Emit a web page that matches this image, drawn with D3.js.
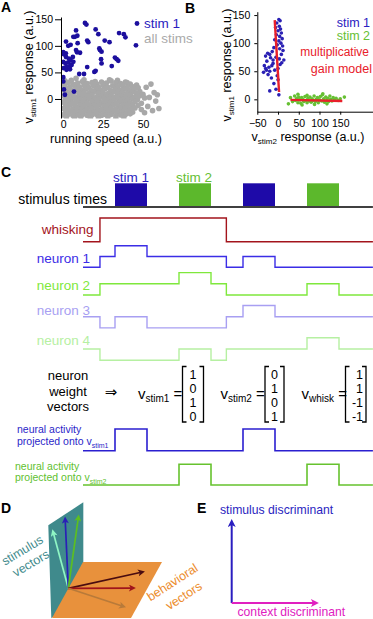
<!DOCTYPE html>
<html>
<head>
<meta charset="utf-8">
<script src="https://cdn.jsdelivr.net/npm/d3@7"></script>
<style>
  body { margin: 0; background: #fff; }
  svg { display: block; font-family: "Liberation Sans", Arial, sans-serif; }
</style>
</head>
<body>
<svg id="fig" width="373" height="619"></svg>
<script>
// ---------- data ----------
// Panel A: running speed vs v_stim1 response
const aTicksX = [0, 25, 50];
const aTicksY = [0, 50, 100, 150];
const aStim1 = [
  [13.6,143],[14.5,140],[8,129],[20.3,131],[22,122],[8.8,119],[7.3,117],[6.3,117],
  [35,124],[38,122],[39,116],[45.6,101],[1.7,108],[3.1,100],[4.6,102],[0,88],[1.6,86],
  [15,110],[15.7,107],[22.6,95],[23,92],[24,89],[26,110],[29,107],[8,92],[10.5,87],
  [8.6,88],[9,105],[23.7,75],[24,67],[32.4,78],[33.5,75],[34.5,72],[30.4,62],[15,60],
  [19.5,51],[20.3,53],[10,47],[13,47],[0,41],[0,33],[0.4,18],[1,8],[6.7,14],
  [0.2,58],[2,55],[4.2,56],[0,70],[1.4,67],[3.1,69],[4.6,73],[1.7,79],[3.5,76],
  [5.2,64],[6.3,70],[4.2,62],[2,61],[0.4,84],[6,79]
];
const aAllStims = [
  [1,34],[8,39],[13,36],[20,33],[29,36],[34,35],[40,31],[5,35],
  [0,29],[3,31],[6,28],[9,30],[12,33],[15,29],[18,31],[21,28],[24,32],[27,30],[30,34],[33,31],[36,29],[39,32],[42,28],[46,26],
  [1,24],[4,22],[7,25],[10,23],[13,26],[16,22],[19,25],[22,23],[25,26],[28,22],[31,25],[34,23],[37,26],[40,22],[43,24],[47,21],
  [0,17],[2.5,19],[5.5,16],[8.5,19],[11.5,17],[14.5,19],[17.5,16],[20.5,18],[23.5,17],[26.5,20],[29.5,16],[32.5,18],[35.5,17],[38.5,19],[41.5,16],[44.5,18],[48,14],
  [1.5,12],[4,10],[7,13],[10,11],[13,12],[16,10],[19,13],[22,11],[25,12],[28,10],[31,13],[34,11],[37,12],[40,10],[43,13],[46,11],[50,9],
  [0,6],[3,5],[6,7],[9,4],[12,6],[15,5],[18,7],[21,4],[24,6],[27,5],[30,7],[33,4],[36,6],[39,5],[42,7],[45,4],[48,6],
  [1.5,0],[4.5,-1],[7.5,1],[10.5,-1],[13.5,0],[16.5,1],[19.5,-1],[22.5,0],[25.5,1],[28.5,-1],[31.5,0],[34.5,1],[37.5,-1],[40.5,0],[43.5,1],[46.5,-1],[51,2],
  [0,-6],[3,-5],[6,-7],[9,-5],[12,-6],[15,-7],[18,-5],[21,-6],[24,-7],[27,-5],[30,-6],[33,-7],[36,-5],[39,-6],[42,-7],[45,-5],[49,-8],
  [1.5,-12],[4.5,-11],[7.5,-13],[10.5,-12],[13.5,-11],[16.5,-13],[19.5,-12],[22.5,-11],[25.5,-13],[28.5,-12],[31.5,-11],[34.5,-13],[37.5,-12],[40.5,-11],[43.5,-13],[47,-12],
  [0,-18],[3,-17],[6,-19],[9,-18],[12,-17],[15,-19],[18,-18],[21,-17],[24,-19],[27,-18],[30,-17],[33,-19],[36,-18],[39,-17],[42,-19],[45,-17],
  [1.5,-24],[4.5,-23],[7.5,-25],[10.5,-24],[13.5,-23],[16.5,-25],[19.5,-24],[22.5,-23],[25.5,-25],[28.5,-24],[31.5,-23],[34.5,-25],[37.5,-24],[40.5,-23],[43.5,-25],
  [0,-30],[3,-29],[6,-31],[9,-30],[12,-29],[15,-31],[18,-30],[21,-29],[24,-31],[27,-30],[30,-29],[33,-31],[36,-30],[39,-29],[42,-28],
  [2,-35],[7,-37],[11,-34],[17,-37],[22,-35],[28,-34],[33,-36],[38,-35],
  [52,22],[55,28],[57,12],[54,3],[58,-4],[53,-14],[56,-22],[60,-18],[51,-26],[59,8],[49,-20]
];

// Panel B: v_stim2 response vs v_stim1 response
const bTicksX = [-50, 0, 50, 100, 150];
const bTicksY = [0, 50, 100, 150];
const bStim1 = [
  [2,142],[5,140],[-3,136],[3,130],[-6,128],[6,125],[0,122],[8,118],[-4,115],[4,112],
  [10,108],[-8,106],[2,104],[7,100],[-2,97],[11,95],[-10,92],[4,90],[12,87],[-14,85],
  [-25,82],[-20,80],[8,80],[-30,77],[-18,74],[-5,75],[3,72],[14,70],[-27,68],[-12,70],
  [-33,60],[-22,57],[-15,60],[-28,52],[-20,50],[-35,48],[-8,52],[0,55],[5,62],[-24,44],
  [-16,38],[-2,42],[-20,15],[-5,18],[2,8],[-10,28],[0,35],[-30,55],[-12,64],[9,65]
];
const bStim2 = [
  [25,-8],[30,3],[35,-4],[40,6],[42,-2],[45,2],[48,-6],[50,4],[52,-1],[55,-7],
  [57,3],[60,0],[62,-4],[65,5],[67,-2],[70,-6],[72,2],[75,-3],[77,4],[80,-5],
  [82,1],[85,-2],[87,6],[90,-4],[92,0],[95,3],[97,-6],[100,-1],[102,5],[105,-3],
  [107,8],[110,1],[112,-5],[115,4],[117,-2],[120,2],[122,-4],[125,6],[127,0],[130,-3],
  [133,3],[136,-1],[140,2],[145,-2],[150,1],[160,4],[48,9],[58,-10],[88,-9],[108,10],
  [118,-8],[70,7]
];
const gainFitStim1 = [[-8,141],[2.5,13]];
const gainFitStim2 = [[30,-1],[155,-3]];

// Panel C: stimulus epochs (time units) and step traces [time, level]
const stimEpochs = [
  { t0: 1, t1: 2, stim: 1 }, { t0: 3, t1: 4, stim: 2 },
  { t0: 5, t1: 6, stim: 1 }, { t0: 7, t1: 8, stim: 2 }
];
const tEnd = 9.06;
const whiskTrace = [[0,0],[0.53,1],[4.48,0]];
const neuron1 = [[0,0],[0.53,1],[1,2],[2,1],[4.48,0],[5,1],[6,0]];
const neuron2 = [[0,0],[0.53,1],[3,2],[4,1],[4.48,0],[7,1],[8,0]];
const neuron3 = [[0,0],[0.53,-1],[1,0],[2,-1],[4.48,0],[5,1],[6,0]];
const neuron4 = [[0,0],[0.53,-1],[3,0],[4,-1],[4.48,0],[7,1],[8,0]];
const projStim1 = [[0,0],[1,1],[2,0],[5,1],[6,0]];
const projStim2 = [[0,0],[3,1],[4,0],[7,1],[8,0]];
const vecNames = ["stim1", "stim2", "whisk"];
const vecValues = [[1,0,1,0],[0,1,0,1],[1,1,-1,-1]];

// Panel D: vectors in local units from the shared origin
const stimPlane = [[-20,-63],[15,-86],[15,2],[-17,30]];
const behavPlane = [[14.7,-26.3],[93.7,-26.3],[62.7,29.7],[-16.3,29.7]];
const stimVectors = [[-16.3,-60.3],[-3.3,-73.3],[10.7,-75.3]];
const behavVectors = [[78.7,-17.3],[69.7,-0.3],[59.7,19.7]];

// ---------- drawing ----------
const svg = d3.select("#fig");
const defs = svg.append("defs");

function panelLabel(t, x, y) {
  svg.append("text").attr("x", x).attr("y", y)
    .attr("font-weight", "bold").attr("font-size", 14).text(t);
}

// text with a subscript: parts = [[text, isSub], ...]
function subText(sel, parts, size, subSize) {
  let shifted = false;
  parts.forEach(p => {
    const ts = sel.append("tspan").text(p[0]);
    if (p[1]) { ts.attr("font-size", subSize).attr("dy", size * 0.25); shifted = true; }
    else if (shifted) { ts.attr("dy", -size * 0.25); shifted = false; }
  });
  return sel;
}

function styleAxis(g) {
  g.attr("font-family", null).attr("font-size", 10.5);
  g.selectAll("path,line").attr("stroke", "#000").attr("stroke-width", 1);
}

// ===== Panel A =====
panelLabel("A", 1, 12);
const ax = d3.scaleLinear().domain([-1.44, 62]).range([61, 162.1]);
const ay = d3.scaleLinear().domain([-35.8, 154.3]).range([118, 17]);

defs.append("clipPath").attr("id", "clipA")
  .append("rect").attr("x", 61).attr("y", 0).attr("width", 120).attr("height", 118.5);

const gA = svg.append("g").attr("clip-path", "url(#clipA)");
gA.selectAll("circle.all").data(aAllStims).enter().append("circle")
  .attr("cx", d => ax(d[0])).attr("cy", d => ay(d[1])).attr("r", 2.8)
  .attr("fill", "#a8a8a8");
gA.selectAll("circle.s1").data(aStim1).enter().append("circle")
  .attr("cx", d => ax(d[0])).attr("cy", d => ay(d[1])).attr("r", 2.4)
  .attr("fill", "#1c0f9e");

svg.append("g").attr("transform", "translate(61,0)")
  .call(d3.axisLeft(ay).tickValues(aTicksY).tickSize(6).tickSizeOuter(0).tickPadding(2))
  .call(styleAxis);
svg.append("g").attr("transform", "translate(0,119)")
  .call(d3.axisBottom(ax).tickValues(aTicksX).tickSize(0).tickPadding(1.5))
  .call(styleAxis)
  .call(g => g.select(".domain").remove());

// legend A
svg.append("circle").attr("cx", 137).attr("cy", 23.5).attr("r", 2.4).attr("fill", "#1c0f9e");
svg.append("text").attr("x", 144).attr("y", 27.5).attr("font-size", 13.5)
  .attr("fill", "#2a1cc0").text("stim 1");
svg.append("text").attr("x", 144).attr("y", 43).attr("font-size", 13.5)
  .attr("fill", "#aaaaaa").text("all stims");

subText(svg.append("text").attr("transform", "translate(33,67) rotate(-90)")
  .attr("text-anchor", "middle").attr("font-size", 12.5),
  [["v", 0], ["stim1", 1], [" response (a.u.)", 0]], 12.5, 8);
svg.append("text").attr("x", 106).attr("y", 142.5).attr("text-anchor", "middle")
  .attr("font-size", 12.5).text("running speed (a.u.)");

// ===== Panel B =====
panelLabel("B", 185, 13);
const bx = d3.scaleLinear().domain([-50, 229]).range([257.3, 373]);
const by = d3.scaleLinear().domain([-22, 156]).range([111.7, 11.7]);

svg.append("g").selectAll("circle").data(bStim1).enter().append("circle")
  .attr("cx", d => bx(d[0])).attr("cy", d => by(d[1])).attr("r", 1.8)
  .attr("fill", "#2a20b4");
svg.append("g").selectAll("circle").data(bStim2).enter().append("circle")
  .attr("cx", d => bx(d[0])).attr("cy", d => by(d[1])).attr("r", 1.8)
  .attr("fill", "#66c033");
const fitLine = d3.line().x(d => bx(d[0])).y(d => by(d[1]));
[gainFitStim1, gainFitStim2].forEach(f => {
  svg.append("path").attr("d", fitLine(f)).attr("stroke", "#e8202a")
    .attr("stroke-width", 2.4).attr("fill", "none");
});

svg.append("g").attr("transform", "translate(257.3,0)")
  .call(d3.axisLeft(by).tickValues(bTicksY).tickSize(3).tickSizeOuter(0).tickPadding(4))
  .call(styleAxis);
svg.append("g").attr("transform", "translate(0,111.7)")
  .call(d3.axisBottom(bx).tickValues(bTicksX).tickSize(3).tickSizeOuter(0).tickPadding(4.5))
  .call(styleAxis);

svg.append("text").attr("x", 370).attr("y", 27).attr("text-anchor", "end")
  .attr("font-size", 12.5).attr("fill", "#2a20c0").text("stim 1");
svg.append("text").attr("x", 370).attr("y", 40).attr("text-anchor", "end")
  .attr("font-size", 12.5).attr("fill", "#66c033").text("stim 2");
svg.append("text").attr("x", 369).attr("y", 56).attr("text-anchor", "end")
  .attr("font-size", 12).attr("fill", "#e8202a").text("multiplicative");
svg.append("text").attr("x", 372).attr("y", 72.5).attr("text-anchor", "end")
  .attr("font-size", 12.5).attr("fill", "#e8202a").text("gain model");

subText(svg.append("text").attr("transform", "translate(231,65) rotate(-90)")
  .attr("text-anchor", "middle").attr("font-size", 12.5),
  [["v", 0], ["stim1", 1], [" response (a.u.)", 0]], 12.5, 8);
subText(svg.append("text").attr("x", 308).attr("y", 141).attr("text-anchor", "middle")
  .attr("font-size", 12.5),
  [["v", 0], ["stim2", 1], [" response (a.u.)", 0]], 12.5, 8);

// ===== Panel C =====
panelLabel("C", 1, 177);
const tx = d3.scaleLinear().domain([0, 9.0625]).range([83, 373]);
const stimColor = { 1: "#1e0aa8", 2: "#5cb82c" };

svg.append("g").selectAll("rect").data(stimEpochs).enter().append("rect")
  .attr("x", d => tx(d.t0)).attr("width", d => tx(d.t1) - tx(d.t0))
  .attr("y", 183.3).attr("height", 22.7)
  .attr("fill", d => stimColor[d.stim]);
svg.append("line").attr("x1", tx(0)).attr("x2", tx(tEnd)).attr("y1", 207).attr("y2", 207)
  .attr("stroke", "#000").attr("stroke-width", 1.5);
svg.append("text").attr("x", (tx(1) + tx(2)) / 2).attr("y", 182).attr("text-anchor", "middle")
  .attr("font-size", 13.5).attr("fill", "#2a1cc0").text("stim 1");
svg.append("text").attr("x", (tx(3) + tx(4)) / 2 - 1).attr("y", 182).attr("text-anchor", "middle")
  .attr("font-size", 13.5).attr("fill", "#66c033").text("stim 2");
svg.append("text").attr("x", 107).attr("y", 204).attr("text-anchor", "end")
  .attr("font-size", 14).text("stimulus times");

function drawTrace(data, base, step, color, width) {
  const pts = data.concat([[tEnd, data[data.length - 1][1]]]);
  const y = d3.scaleLinear().domain([0, 1]).range([base, base - step]);
  const line = d3.line().x(d => tx(d[0])).y(d => y(d[1])).curve(d3.curveStepAfter);
  svg.append("path").attr("d", line(pts)).attr("fill", "none")
    .attr("stroke", color).attr("stroke-width", width || 1.4);
}

const traces = [
  { data: whiskTrace, base: 241.7, step: 23.7, color: "#a3141c", label: "whisking", ly: 234, lx: 93.5 },
  { data: neuron1, base: 267.3, step: 10.8, color: "#3b2de6", label: "neuron 1", ly: 263, lx: 90 },
  { data: neuron2, base: 295, step: 11.2, color: "#7fe83c", label: "neuron 2", ly: 290, lx: 90 },
  { data: neuron3, base: 316.7, step: 11.2, color: "#a89ff2", label: "neuron 3", ly: 315, lx: 90 },
  { data: neuron4, base: 349, step: 11.3, color: "#b6f0a2", label: "neuron 4", ly: 345, lx: 90 }
];
traces.forEach(t => {
  drawTrace(t.data, t.base, t.step, t.color);
  svg.append("text").attr("x", t.lx).attr("y", t.ly).attr("text-anchor", "end")
    .attr("font-size", 13.5).attr("fill", t.color).text(t.label);
});

// weight vectors
const wordLines = svg.append("text").attr("text-anchor", "middle").attr("font-size", 13);
["neuron", "weight", "vectors"].forEach((w, i) => {
  wordLines.append("tspan").attr("x", 68).attr("y", 380 + i * 15.7).text(w);
});
svg.append("text").attr("x", 111).attr("y", 397).attr("text-anchor", "middle")
  .attr("font-family", "DejaVu Sans").attr("font-size", 15).text("\u21D2");

const vecLabelX = [138, 220.5, 301.5];
const vecBracket = [[182.5, 203.5], [265, 284], [345.5, 366]];
const rowY = d3.scaleLinear().domain([0, 3]).range([378.5, 420.5]);
vecNames.forEach((name, k) => {
  const gl = svg.append("text").attr("x", vecLabelX[k]).attr("y", 399).attr("font-size", 15);
  gl.append("tspan").text("v");
  gl.append("tspan").attr("font-size", 10).attr("dy", 3).text(name);
  gl.append("tspan").attr("dy", -3).text(" =");
  const [l, r] = vecBracket[k];
  svg.append("path").attr("d", `M${l + 4},366.5 H${l} V422 H${l + 4}`)
    .attr("fill", "none").attr("stroke", "#000").attr("stroke-width", 1.3);
  svg.append("path").attr("d", `M${r - 4},366.5 H${r} V422 H${r - 4}`)
    .attr("fill", "none").attr("stroke", "#000").attr("stroke-width", 1.3);
  const neg = vecValues[k].some(v => v < 0);
  const col = svg.append("text").attr("font-size", 12.5)
    .attr("text-anchor", neg ? "end" : "middle");
  vecValues[k].forEach((v, i) => {
    col.append("tspan").attr("x", neg ? r - 3 : (l + r) / 2).attr("y", rowY(i)).text(v);
  });
});

// projections
drawTrace(projStim1, 450.7, 21.7, "#2b1fd0", 1.6);
drawTrace(projStim2, 485, 20.7, "#66c22e", 1.6);
svg.append("text").attr("x", 17).attr("y", 433).attr("font-size", 10.5)
  .attr("fill", "#2b1fc8").text("neural activity");
subText(svg.append("text").attr("x", 17).attr("y", 445).attr("font-size", 10.5).attr("fill", "#2b1fc8"),
  [["projected onto v", 0], ["stim1", 1]], 10.5, 7);
svg.append("text").attr("x", 15).attr("y", 469.5).attr("font-size", 10.5)
  .attr("fill", "#5fbf30").text("neural activity");
subText(svg.append("text").attr("x", 15).attr("y", 481).attr("font-size", 10.5).attr("fill", "#5fbf30"),
  [["projected onto v", 0], ["stim2", 1]], 10.5, 7);

// ===== Panel D =====
panelLabel("D", 1, 513);
const dx = d3.scaleLinear().domain([0, 1]).range([68.3, 69.3]);
const dy = d3.scaleLinear().domain([0, 1]).range([588.3, 589.3]);
const poly = d3.line().x(d => dx(d[0])).y(d => dy(d[1]));
svg.append("path").attr("d", poly(stimPlane) + "Z").attr("fill", "#3f8a8c");
svg.append("path").attr("d", poly(behavPlane) + "Z").attr("fill", "#e8913c");

function arrowMarker(id, color, w, h) {
  defs.append("marker").attr("id", id).attr("viewBox", "0 0 10 10")
    .attr("refX", 3).attr("refY", 5).attr("markerUnits", "userSpaceOnUse")
    .attr("markerWidth", w).attr("markerHeight", h).attr("orient", "auto")
    .append("path").attr("d", "M0,0 L10,5 L0,10 L2.5,5 Z").attr("fill", color);
}
function arrow(x1, y1, x2, y2, color, id, sw, len) {
  const L = Math.hypot(x2 - x1, y2 - y1);
  const k = (L - len * 0.7) / L;
  svg.append("line").attr("x1", x1).attr("y1", y1)
    .attr("x2", x1 + (x2 - x1) * k).attr("y2", y1 + (y2 - y1) * k)
    .attr("stroke", color).attr("stroke-width", sw).attr("marker-end", `url(#${id})`);
}
const stimVecColors = ["#8ff5c4", "#2a1fb8", "#5cbf20"];
const behavVecColors = ["#4a0c10", "#a0151b", "#b87a3a"];
stimVectors.forEach((v, i) => {
  arrowMarker("ms" + i, stimVecColors[i], 9, 7);
  arrow(dx(0), dy(0), dx(v[0]), dy(v[1]), stimVecColors[i], "ms" + i, 1.7, 9);
});
behavVectors.forEach((v, i) => {
  arrowMarker("mb" + i, behavVecColors[i], 10, 7);
  arrow(dx(0), dy(0), dx(v[0]), dy(v[1]), behavVecColors[i], "mb" + i, 1.7, 10);
});

[["stimulus", 22.5, 550.5], ["vectors", 31, 563.5]].forEach(t => {
  svg.append("text").attr("transform", `translate(${t[1]},${t[2]}) rotate(-31)`)
    .attr("text-anchor", "middle").attr("dominant-baseline", "central")
    .attr("font-size", 12.5).attr("fill", "#3f8a8c").text(t[0]);
});
[["behavioral", 172.5, 582.5], ["vectors", 184, 596]].forEach(t => {
  svg.append("text").attr("transform", `translate(${t[1]},${t[2]}) rotate(-33)`)
    .attr("text-anchor", "middle").attr("dominant-baseline", "central")
    .attr("font-size", 12.5).attr("fill", "#ec8c2c").text(t[0]);
});

// ===== Panel E =====
panelLabel("E", 197, 513);
arrowMarker("me1", "#2a1ec0", 11, 8);
arrowMarker("me2", "#e020c0", 11, 8);
arrow(231.7, 603, 231.7, 517, "#2a1ec0", "me1", 2, 11);
arrow(231.7, 603, 321, 603, "#e020c0", "me2", 2, 11);
svg.append("text").attr("x", 220).attr("y", 514).attr("font-size", 12.2)
  .attr("fill", "#2a1ec0").text("stimulus discriminant");
svg.append("text").attr("x", 237.5).attr("y", 616).attr("font-size", 12.2)
  .attr("fill", "#e020c0").text("context discriminant");
</script>
</body>
</html>
